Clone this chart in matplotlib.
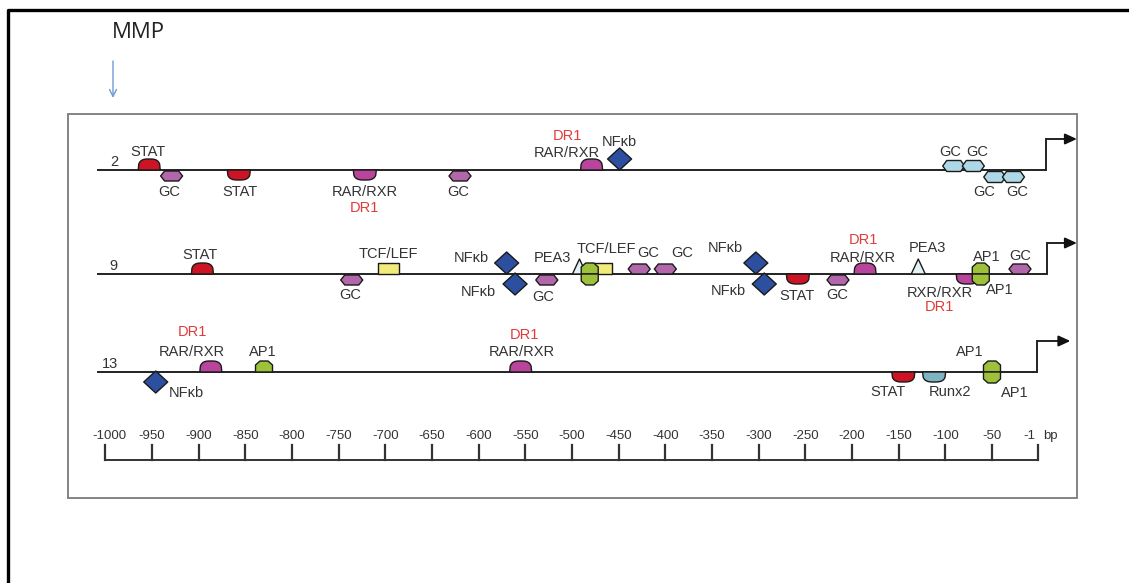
import matplotlib
matplotlib.use("Agg")
import matplotlib.pyplot as plt
from matplotlib.patches import Polygon, Rectangle
import numpy as np

plt.rcParams['font.family'] = ['Liberation Sans', 'DejaVu Sans']

# ---------------- data ----------------
row_labels = ["2", "9", "13"]

# MMP-2 promoter
r2_bp = [-953, -929, -857, -722, -620, -479, -449, -91, -70, -47, -27]
r2_tf = ["STAT", "GC", "STAT", "RAR/RXR", "GC", "RAR/RXR", "NFκb", "GC", "GC", "GC", "GC"]
r2_shape = ["dome", "hex_dn", "hang", "hang", "hex_dn", "dome", "dia_up",
            "hexb_up", "hexb_up", "hexb_dn", "hexb_dn"]
r2_dr1 = [False, False, False, True, False, True, False, False, False, False, False]

# MMP-9 promoter
r9_bp = [-896, -736, -697, -570, -561, -527, -492, -468, -481, -481, -428, -400,
         -303, -294, -258, -215, -186, -129, -76, -62, -62, -20]
r9_tf = ["STAT", "GC", "TCF/LEF", "NFκb", "NFκb", "GC", "PEA3", "TCF/LEF", "AP1", "AP1",
         "GC", "GC", "NFκb", "NFκb", "STAT", "GC", "RAR/RXR", "PEA3", "RXR/RXR",
         "AP1", "AP1", "GC"]
r9_shape = ["dome", "hex_dn", "rect", "dia_up", "dia_dn", "hex_dn", "tri", "rect",
            "ap1_up", "ap1_dn", "hex_up", "hex_up", "dia_up", "dia_dn", "hang", "hex_dn",
            "dome", "tri", "hang", "ap1_up", "ap1_dn", "hex_up"]
r9_dr1 = [False] * 16 + [True, False, True, False, False, False]

# MMP-13 promoter
r13_bp = [-946, -887, -830, -555, -145, -112, -50, -50]
r13_tf = ["NFκb", "RAR/RXR", "AP1", "RAR/RXR", "STAT", "Runx2", "AP1", "AP1"]
r13_shape = ["dia_dn", "dome", "ap1_up", "dome", "hang", "hang", "ap1_up", "ap1_dn"]
r13_dr1 = [False, True, False, True, False, False, False, False]

scale_ticks = [-1000, -950, -900, -850, -800, -750, -700, -650, -600, -550,
               -500, -450, -400, -350, -300, -250, -200, -150, -100, -50, -1]
scale_labels = [str(t) for t in scale_ticks]

# ---------------- layout ----------------
K = 0.9333                       # px per bp
X0 = -500 - 572 / K              # bp at pixel x = 0
X1 = X0 + 1129 / K


def px2bp(px):
    return X0 + px / K


row_base = [170, 274, 372]        # baseline of each promoter line (px from top)
row_start = -1008
row_end = [8, 9, -2]
row_tip = [41, 41, 34]

# label offsets (px) relative to site / baseline; None = no label
r2_lab = [(-1, -18), (-2, 22), (1, 22), (0, 22), (-2, 22), (-25, -17), (0, -28),
          (-4, -18), (4, -18), (-11, 22), (4, 22)]
r2_dr1_lab = [None, None, None, (0, 38), None, (-24, -34), None, None, None, None, None]
r9_lab = [(-2, -19), (-2, 21), (0, -20), (-35, -16), (-37, 18), (-4, 23), (-27, -16),
          (5, -25), None, None, (9, -21), (17, -21), (-31, -26), (-36, 17), (-1, 22),
          (-1, 21), (-2, -16), (9, -26), (-28, 19), (6, -17), (19, 16), (0, -18)]
r9_dr1_lab = [None] * 16 + [(-2, -34), None, (-28, 33), None, None, None]
r13_lab = [(31, 21), (-19, -20), (-1, -20), (1, -20), (-15, 20), (16, 20), (-22, -20), (23, 21)]
r13_dr1_lab = [None, (-18, -40), None, (4, -37), None, None, None, None]
tick_lab_dx = [4] + [0] * 19 + [-8]

tf_color = {"STAT": "#cc1424", "RAR/RXR": "#b8449b", "RXR/RXR": "#b8449b",
            "GC": "#b267aa", "NFκb": "#2c4f9f", "TCF/LEF": "#f3ea7c",
            "PEA3": "#e4f1f5", "AP1": "#9dc13a", "Runx2": "#7fb4c3"}
light_gc = "#aed7e8"
edge = "#1a1a1a"
txt = "#333333"
dr1_col = "#e03a3a"

u = np.linspace(-1, 1, 41)
dome_y = (1 - np.abs(u) ** 3) ** (1 / 3)
shapes = {
    "dome": (u * 11, -11 * dome_y),
    "hang": (u * 11.5, 10 * dome_y),
    "hex_up": ([-11, -7, 7, 11, 7, -7], [-5, -10, -10, -5, 0, 0]),
    "hex_dn": ([-11, -7, 7, 11, 7, -7], [6, 1, 1, 6, 11, 11]),
    "hexb_up": ([-11, -7, 7, 11, 7, -7], [-4, -9.5, -9.5, -4, 1.5, 1.5]),
    "hexb_dn": ([-11, -7, 7, 11, 7, -7], [7, 1.5, 1.5, 7, 12.5, 12.5]),
    "dia_up": ([0, 12, 0, -12], [-22, -11, 0, -11]),
    "dia_dn": ([0, 12, 0, -12], [-1, 10, 21, 10]),
    "rect": ([-10.5, -10.5, 10.5, 10.5], [0, -11, -11, 0]),
    "tri": ([-7, 0, 7], [0, -15, 0]),
    "ap1_up": ([-8.5, -8.5, -4, 4, 8.5, 8.5], [0, -7, -11, -11, -7, 0]),
    "ap1_dn": ([-8.5, -8.5, -4, 4, 8.5, 8.5], [0, 7, 11, 11, 7, 0]),
}

fig = plt.figure(figsize=(11.29, 5.83), dpi=100)
ax = fig.add_axes([0, 0, 1, 1])
ax.set_xlim(X0, X1)
ax.set_ylim(583, 0)
ax.axis('off')

# outer frame and inner panel
ax.plot([px2bp(8), px2bp(8), px2bp(1135)], [590, 10, 10], color='black', lw=2.4,
        solid_capstyle='projecting', clip_on=False)
ax.add_patch(Rectangle((px2bp(68), 114), (1077 - 68) / K, 498 - 114,
                       facecolor='white', edgecolor='#7a7a7a', lw=1.3, zorder=0.5))

# MMP title with arrow
ax.text(px2bp(138), 33, "MMP", fontsize=16, family=['Open Sans', 'DejaVu Sans'],
        color='#222222', ha='center', va='center')
ax.annotate("", xy=(px2bp(113), 98), xytext=(px2bp(113), 61),
            arrowprops=dict(arrowstyle='->,head_length=0.5,head_width=0.25',
                            color='#6f9bd6', lw=1.0, shrinkA=0, shrinkB=0))

rows = [
    (r2_bp, r2_tf, r2_shape, r2_dr1, r2_lab, r2_dr1_lab),
    (r9_bp, r9_tf, r9_shape, r9_dr1, r9_lab, r9_dr1_lab),
    (r13_bp, r13_tf, r13_shape, r13_dr1, r13_lab, r13_dr1_lab),
]

for i, (bps, tfs, shp, dr1, lab, dlab) in enumerate(rows):
    base = row_base[i]
    # promoter line with bent arrow at TSS
    ax.plot([row_start, row_end[i], row_end[i], row_tip[i] - 8],
            [base, base, base - 31, base - 31], color='#222222', lw=1.4, zorder=1,
            solid_joinstyle='miter')
    ax.annotate("", xy=(row_tip[i], base - 31), xytext=(row_tip[i] - 9, base - 31),
                arrowprops=dict(arrowstyle='-|>,head_length=0.7,head_width=0.32',
                                color='#111111', lw=1.4, shrinkA=0, shrinkB=0))
    ax.text(px2bp(118), base - 8, row_labels[i], fontsize=10.5, color='#333333',
            ha='right', va='center')

    for j, (bp, tf, s) in enumerate(zip(bps, tfs, shp)):
        dx, dy = shapes[s]
        fc = light_gc if s.startswith("hexb") else tf_color[tf]
        xs = bp + np.asarray(dx) / K
        ys = base + np.asarray(dy)
        ax.add_patch(Polygon(np.column_stack([xs, ys]), closed=True, facecolor=fc,
                             edgecolor=edge, lw=1.0, zorder=2 + j * 0.01,
                             joinstyle='round'))
        if lab[j] is not None:
            ox, oy = lab[j]
            ax.text(bp + ox / K, base + oy, tf, fontsize=10.5, color=txt,
                    ha='center', va='center', zorder=5)
        if dr1[j] and dlab[j] is not None:
            ox, oy = dlab[j]
            ax.text(bp + ox / K, base + oy, "DR1", fontsize=10.5, color=dr1_col,
                    ha='center', va='center', zorder=5)

# bp scale
scale_y = 460
ax.plot([scale_ticks[0], scale_ticks[-1]], [scale_y, scale_y], color='#333333', lw=1.4)
for t, l, ldx in zip(scale_ticks, scale_labels, tick_lab_dx):
    ax.plot([t, t], [scale_y, scale_y - 15], color='#333333', lw=1.6)
    ax.text(t + ldx / K, scale_y - 24, l, fontsize=9.5, color=txt, ha='center', va='center')
ax.text(px2bp(1050), scale_y - 24, "bp", fontsize=9.5, color=txt, ha='center', va='center')

fig.savefig("out.png", dpi=100, facecolor='white')
